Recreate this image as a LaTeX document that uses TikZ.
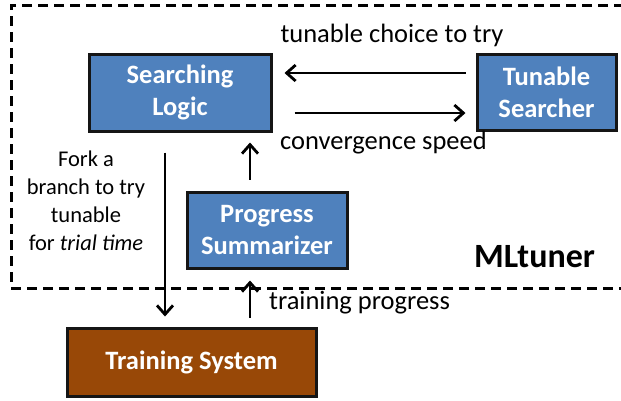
\documentclass[tikz,border=0pt]{standalone}
\usepackage{fontspec}
\setmainfont{Carlito}
\usetikzlibrary{arrows.meta}

\definecolor{boxblue}{HTML}{4F81BD}
\definecolor{boxbrown}{HTML}{984807}
\definecolor{boxedge}{HTML}{151515}

\tikzset{
  block/.style={draw=boxedge, line width=3pt, inner sep=0pt, align=center,
    text=white, font=\fontsize{26.5}{32}\selectfont\bfseries},
  bluebox/.style={block, fill=boxblue},
  brownbox/.style={block, fill=boxbrown},
  flow/.style={draw=black, line width=2.8pt,
    -{Straight Barb[length=9pt, width=16pt, line width=2.8pt]}},
  label/.style={inner sep=0pt, font=\fontsize{26.5}{32}\selectfont},
  forktext/.style={inner sep=0pt, align=center, font=\fontsize{22.5}{28}\selectfont},
  boundary/.style={draw=black, line width=3pt, dash pattern=on 10pt off 6pt}
}

\begin{document}
\begin{tikzpicture}[x=1pt, y=-1pt]
  \useasboundingbox (0,0) rectangle (621,400);
  \clip (0,0) rectangle (621,400);

  % MLtuner boundary (open to the right)
  \draw[boundary] (640,5) -- (11,5) -- (11,288) -- (640,288);

  % components
  \node[bluebox, minimum width=182pt, minimum height=77pt] (logic) at (180,92.5) {Searching\\Logic};
  \node[bluebox, minimum width=139pt, minimum height=76pt] (searcher) at (546.5,92.5) {Tunable\\Searcher};
  \node[bluebox, minimum width=160pt, minimum height=76pt] (summ) at (267,230) {Progress\\Summarizer};
  \node[brownbox, minimum width=249pt, minimum height=68pt] (train) at (191.5,362) {Training System};

  % column positions of the vertical connectors
  \coordinate (fx) at (165,0);
  \coordinate (ux) at (250,0);
  \coordinate (ya) at (0,73);
  \coordinate (yb) at (0,113);

  % connectors
  \draw[flow, shorten <=10pt, shorten >=12pt] (searcher.west |- ya) -- (logic.east |- ya);
  \draw[flow, shorten <=22pt, shorten >=10pt] (logic.east |- yb) -- (searcher.west |- yb);
  \draw[flow, shorten <=20pt, shorten >=10pt] (logic.south -| fx) -- (train.north -| fx);
  \draw[flow, shorten <=9pt, shorten >=11pt] (train.north -| ux) -- (summ.south -| ux);
  \draw[flow, shorten <=11pt, shorten >=10pt] (summ.north -| ux) -- (logic.south -| ux);

  % labels
  \node[label] (choice) at (392,35) {tunable choice to try};
  \node[label, anchor=west] (speed) at (280,143) {convergence speed};
  \node[label, anchor=west] (progress) at (269,303) {training progress};
  \node[forktext] (fork) at (86,201) {Fork a\\branch to try\\tunable\\for \textit{trial time}};
  \node[inner sep=0pt, font=\fontsize{34}{40}\selectfont\bfseries] (name) at (534.5,257) {MLtuner};
\end{tikzpicture}
\end{document}
